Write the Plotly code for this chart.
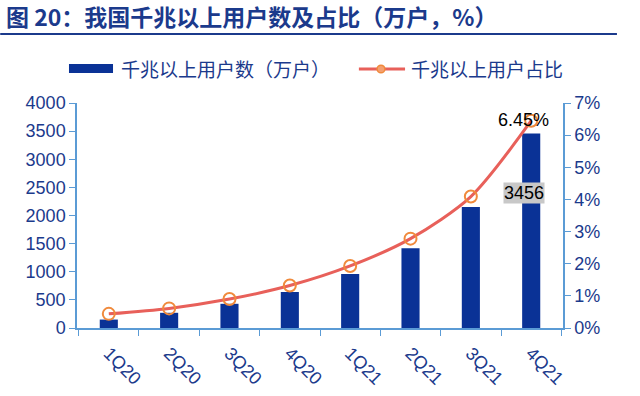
import plotly.graph_objects as go

categories = ["1Q20", "2Q20", "3Q20", "4Q20", "1Q21", "2Q21", "3Q21", "4Q21"]
users = [150, 270, 430, 640, 960, 1420, 2150, 3456]
share = [0.44, 0.61, 0.90, 1.32, 1.93, 2.78, 4.09, 6.45]
left_ticks = [0, 500, 1000, 1500, 2000, 2500, 3000, 3500, 4000]
right_ticks = [0, 1, 2, 3, 4, 5, 6, 7]
bar_name = "千兆以上用户数（万户）"
line_name = "千兆以上用户占比"
title_text = "图 20：我国千兆以上用户数及占比（万户，%）"

NAVY = "#1B3A8C"
AXIS = "#5B9BD5"
BAR = "#0A3296"
LINE = "#E8605A"
MARK = "#F08A3C"
FONT = "Liberation Sans, Arial, sans-serif"
CJK = "Noto Sans CJK SC, sans-serif"

fig = go.Figure()
fig.add_trace(go.Bar(
    x=categories, y=users, name=bar_name,
    marker=dict(color=BAR, line=dict(width=0)), width=0.3,
))
fig.add_trace(go.Scatter(
    x=categories, y=share, name=line_name, yaxis="y2",
    mode="lines+markers",
    line=dict(color=LINE, width=3, shape="spline", smoothing=0.8),
    marker=dict(symbol="circle-open", size=12, color=MARK, line=dict(width=2, color=MARK)),
))

# data labels
fig.add_annotation(
    x=categories[-1], y=share[-1], xref="x", yref="y2", xshift=-8, yshift=1,
    text=f"{share[-1]:.2f}%", showarrow=False,
    font=dict(family=FONT, size=18, color="#000000"),
)
fig.add_annotation(
    x=categories[-1], y=users[-1], xref="x", yref="y", yanchor="top", yshift=-48, xshift=-7,
    text=str(users[-1]), showarrow=False, bgcolor="#C8C8C8",
    font=dict(family=FONT, size=18, color="#000000"), borderpad=0,
)

# title
fig.add_annotation(
    x=-0.151, y=1.385, xref="paper", yref="paper", xanchor="left", yanchor="middle",
    text="<b>" + title_text + "</b>", showarrow=False,
    font=dict(family=CJK, size=23, color=NAVY),
)
fig.add_shape(type="line", xref="paper", yref="paper", x0=-0.158, x1=1.111, y0=1.307, y1=1.307,
              line=dict(color=NAVY, width=2))

# custom legend
fig.add_shape(type="rect", xref="paper", yref="paper", x0=-0.0165, x1=0.0741, y0=1.133, y1=1.173,
              line=dict(width=0), fillcolor=BAR)
fig.add_annotation(
    x=0.086, y=1.153, xref="paper", yref="paper", xanchor="left", yanchor="middle",
    text=bar_name, showarrow=False, font=dict(family=CJK, size=19, color=NAVY),
)
fig.add_shape(type="line", xref="paper", yref="paper", x0=0.580, x1=0.675, y0=1.151, y1=1.151,
              line=dict(color=LINE, width=3))
fig.add_shape(type="circle", xref="paper", yref="paper", x0=0.6175, x1=0.6335, y0=1.134, y1=1.168,
              line=dict(color=MARK, width=1.5), fillcolor="#F4A070")
fig.add_annotation(
    x=0.683, y=1.153, xref="paper", yref="paper", xanchor="left", yanchor="middle",
    text=line_name, showarrow=False, font=dict(family=CJK, size=19, color=NAVY),
)

fig.update_layout(
    width=640, height=396,
    margin=dict(l=77, r=77, t=103, b=68),
    paper_bgcolor="white", plot_bgcolor="white",
    showlegend=False,
    xaxis=dict(
        type="category", showline=True, linecolor=AXIS, linewidth=1.5,
        ticks="outside", ticklen=6, tickcolor=AXIS, tickson="boundaries",
        tickangle=45, tickfont=dict(family=FONT, size=18, color=NAVY), ticklabelstandoff=6,
        showgrid=False, zeroline=False, automargin=False,
    ),
    yaxis=dict(
        range=[0, 4000], tickvals=left_ticks, showline=True, linecolor=AXIS, linewidth=1.5,
        ticks="outside", ticklen=6, tickcolor=AXIS, automargin=False,
        tickfont=dict(family=FONT, size=18, color=NAVY), showgrid=False, zeroline=False,
    ),
    yaxis2=dict(
        range=[0, 7], tickvals=right_ticks, ticktext=[f"{v}%" for v in right_ticks],
        overlaying="y", side="right", automargin=False,
        showline=True, linecolor=AXIS, linewidth=1.5, ticks="outside", ticklen=6, tickcolor=AXIS,
        tickfont=dict(family=FONT, size=18, color=NAVY), showgrid=False, zeroline=False,
    ),
)

fig.write_html("out.html", config={"displayModeBar": False},
               post_script="document.body.style.margin='0px';")
